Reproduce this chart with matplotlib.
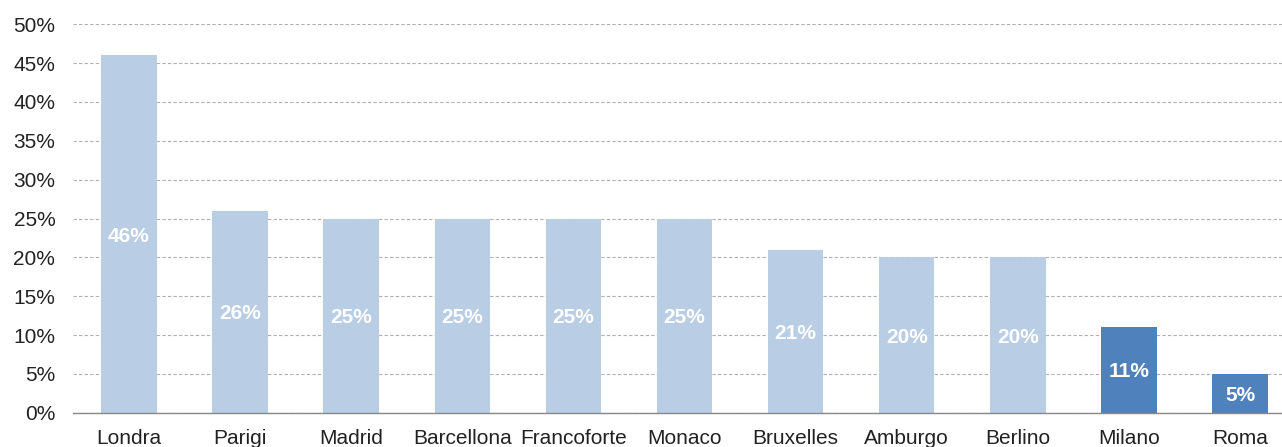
import matplotlib.pyplot as plt
from matplotlib.ticker import FuncFormatter

plt.rcParams['font.family'] = ['Liberation Sans', 'DejaVu Sans']

cities = ['Londra', 'Parigi', 'Madrid', 'Barcellona', 'Francoforte', 'Monaco',
          'Bruxelles', 'Amburgo', 'Berlino', 'Milano', 'Roma']
values = [46, 26, 25, 25, 25, 25, 21, 20, 20, 11, 5]
colors = ['#B9CDE5'] * 9 + ['#4F81BD'] * 2

fig = plt.figure(figsize=(12.82, 4.47), dpi=100)
ax = fig.add_axes([73.4 / 1282, 34.3 / 447, 1222.2 / 1282, 388.4 / 447])

x = list(range(len(cities)))
bars = ax.bar(x, values, width=0.5, color=colors, zorder=3)

for xi, v in zip(x, values):
    ax.text(xi, v / 2, '%d%%' % v, ha='center', va='center_baseline', color='white',
            fontsize=15, fontweight='bold', zorder=4)

ax.set_xlim(-0.5, len(cities) - 0.5)
ax.set_ylim(0, 50)
ax.set_yticks(range(0, 51, 5))
ax.yaxis.set_major_formatter(FuncFormatter(lambda v, p: '%d%%' % v))
ax.set_xticks(x)
ax.set_xticklabels(cities)
ax.tick_params(axis='both', length=0, labelsize=15, colors='#222222')
ax.tick_params(axis='y', pad=13)
ax.tick_params(axis='x', pad=12)

ax.grid(axis='y', color='#B0B0B0', linestyle=(0, (3, 2)), linewidth=0.8, zorder=0)
for s in ['top', 'right', 'left']:
    ax.spines[s].set_visible(False)
ax.spines['bottom'].set_color('#888888')
ax.spines['bottom'].set_linewidth(1.0)
ax.spines['bottom'].set_zorder(5)

fig.savefig('out.png', dpi=100)
